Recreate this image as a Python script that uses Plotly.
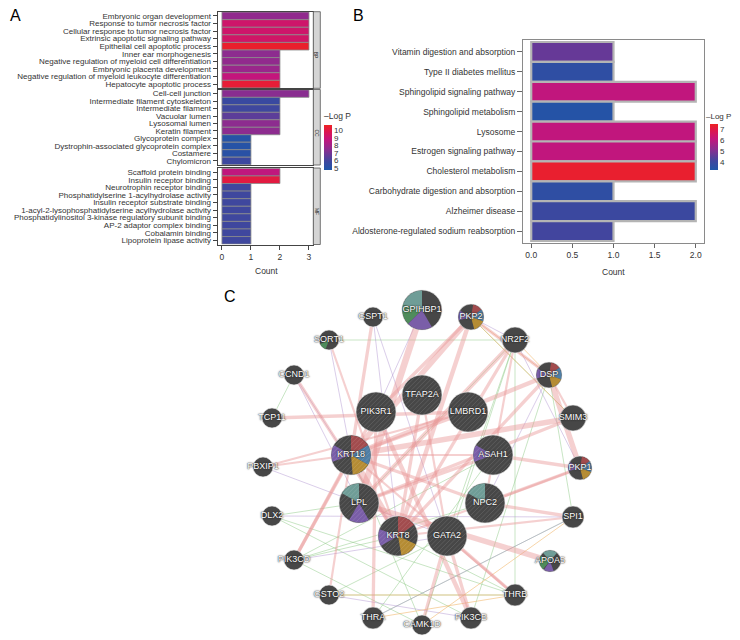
import numpy as np
import plotly.graph_objects as go

W, H = 740, 640
OFF = 8  # page body margin; layout coordinates below are page pixels

# ---------------- Panel A data (GO enrichment) ----------------
bp_terms = ["Embryonic organ development", "Response to tumor necrosis factor",
            "Cellular response to tumor necrosis factor", "Extrinsic apoptotic signaling pathway",
            "Epithelial cell apoptotic process", "Inner ear morphogenesis",
            "Negative regulation of myeloid cell differentiation", "Embryonic placenta development",
            "Negative regulation of myeloid leukocyte differentiation", "Hepatocyte apoptotic process"]
bp_counts = [3, 3, 3, 3, 3, 2, 2, 2, 2, 2]
bp_logp = [7.6, 9.2, 9.2, 9.3, 10.5, 7.5, 7.6, 7.8, 8.8, 10.3]

cc_terms = ["Cell-cell junction", "Intermediate filament cytoskeleton", "Intermediate filament",
            "Vacuolar lumen", "Lysosomal lumen", "Keratin filament", "Glycoprotein complex",
            "Dystrophin-associated glycoprotein complex", "Costamere", "Chylomicron"]
cc_counts = [3, 2, 2, 2, 2, 2, 1, 1, 1, 1]
cc_logp = [7.4, 5.7, 5.9, 6.5, 7.5, 7.5, 5.0, 5.0, 5.1, 5.8]

mf_terms = ["Scaffold protein binding", "Insulin receptor binding", "Neurotrophin receptor binding",
            "Phosphatidylserine 1-acylhydrolase activity", "Insulin receptor substrate binding",
            "1-acyl-2-lysophosphatidylserine acylhydrolase activity",
            "Phosphatidylinositol 3-kinase regulatory subunit binding", "AP-2 adaptor complex binding",
            "Cobalamin binding", "Lipoprotein lipase activity"]
mf_counts = [2, 2, 1, 1, 1, 1, 1, 1, 1, 1]
mf_logp = [8.7, 10.1, 5.9, 5.9, 5.9, 5.9, 5.9, 5.9, 5.9, 5.9]

go_ticks = [0, 1, 2, 3]
go_logp_ticks = [5, 6, 7, 8, 9, 10]
facet_names = ["BP", "CC", "MF"]

# ---------------- Panel B data (KEGG) ----------------
kegg_terms = ["Vitamin digestion and absorption", "Type II diabetes mellitus",
              "Sphingolipid signaling pathway", "Sphingolipid metabolism", "Lysosome",
              "Estrogen signaling pathway", "Cholesterol metabolism",
              "Carbohydrate digestion and absorption", "Alzheimer disease",
              "Aldosterone-regulated sodium reabsorption"]
kegg_counts = [1, 1, 2, 1, 2, 2, 2, 1, 2, 1]
kegg_logp = [4.7, 3.75, 6.1, 3.5, 6.1, 6.1, 7.3, 3.75, 4.05, 4.2]
kegg_ticks = [0.0, 0.5, 1.0, 1.5, 2.0]
kegg_logp_ticks = [4, 5, 6, 7]

# ---------------- Panel C data (network) ----------------
node_names = ["GPIHBP1", "GSPT1", "SORT1", "PKP2", "NR2F2", "CCND1", "DSP", "TFAP2A", "PIK3R1",
              "LMBRD1", "TCP11", "SMIM3", "KRT18", "ASAH1", "PBXIP1", "PKP1", "LPL", "NPC2",
              "DLX2", "SPI1", "KRT8", "GATA2", "PIK3CD", "APOA5", "GSTO2", "THRB", "THRA",
              "PIK3CB", "CAMK1D"]
node_x = [422, 373, 329, 471, 515, 294, 549, 422, 376, 468, 272, 573, 351, 493, 263, 580, 359,
          485, 272, 573, 398, 447, 294, 550, 329, 515, 373, 471, 422]
node_y = [310, 317, 340, 317, 340, 375, 375, 395, 412, 412, 418, 418, 455, 455, 467, 468, 503,
          503, 516, 517, 536, 536, 560, 561, 595, 595, 618, 618, 625]
node_r = [20, 10, 10, 13, 13, 10, 13, 20, 20, 20, 10, 13, 20, 20, 10, 12, 20, 20, 10, 11, 20, 20,
          10, 11, 10, 11, 11, 11, 10]
query_genes = ["TFAP2A", "PIK3R1", "LMBRD1", "KRT18", "ASAH1", "LPL", "NPC2", "KRT8", "GATA2"]

pink_edges = [("GPIHBP1", "LPL", 6), ("PKP2", "KRT18", 5), ("PKP2", "KRT8", 4), ("PKP2", "DSP", 3),
              ("PKP2", "PIK3R1", 3), ("DSP", "PKP1", 5), ("DSP", "KRT18", 4), ("DSP", "KRT8", 3),
              ("SMIM3", "KRT18", 5), ("SMIM3", "LPL", 3), ("TCP11", "LMBRD1", 3), ("PKP1", "ASAH1", 3),
              ("PKP1", "NPC2", 3), ("PKP1", "KRT8", 2), ("SPI1", "NPC2", 3), ("SPI1", "KRT8", 2),
              ("APOA5", "LPL", 5), ("THRB", "GATA2", 3), ("THRB", "KRT18", 2), ("PIK3CB", "GATA2", 3),
              ("PIK3CB", "PIK3R1", 4), ("CAMK1D", "GATA2", 3), ("THRA", "PIK3R1", 3),
              ("PIK3CD", "PIK3R1", 3), ("GSTO2", "KRT18", 2), ("PIK3CD", "KRT18", 3),
              ("SORT1", "KRT8", 2), ("GSPT1", "KRT18", 3), ("CCND1", "KRT8", 3), ("PBXIP1", "KRT18", 2),
              ("PBXIP1", "LMBRD1", 2), ("NR2F2", "LPL", 4), ("NR2F2", "KRT8", 3), ("NR2F2", "NPC2", 2),
              ("LPL", "ASAH1", 3), ("KRT18", "ASAH1", 2), ("KRT18", "KRT8", 6), ("KRT18", "NPC2", 3),
              ("TFAP2A", "KRT8", 3), ("TFAP2A", "GATA2", 2), ("LMBRD1", "KRT18", 3), ("DSP", "SMIM3", 2)]
green_edges = [("SORT1", "NR2F2"), ("CCND1", "TCP11"), ("DLX2", "THRB"), ("PIK3CD", "NPC2"),
               ("GSTO2", "THRB"), ("THRA", "SPI1"), ("CAMK1D", "NR2F2"), ("CAMK1D", "KRT18"),
               ("THRB", "NR2F2"), ("PIK3CB", "DSP"), ("DLX2", "PIK3CB"), ("PIK3CD", "ASAH1"),
               ("GATA2", "NR2F2"), ("LPL", "NR2F2"), ("KRT8", "THRB"), ("SPI1", "DSP"),
               ("PIK3CD", "KRT8"), ("GSTO2", "GATA2"), ("DLX2", "LPL"), ("PKP2", "SMIM3"),
               ("CAMK1D", "PIK3CD"), ("THRA", "ASAH1")]
purple_edges = [("GSPT1", "KRT8"), ("GSPT1", "GATA2"), ("SORT1", "KRT18"), ("CCND1", "KRT8"),
                ("CCND1", "LPL"), ("PKP2", "NR2F2"), ("DSP", "NPC2"), ("PBXIP1", "GATA2"),
                ("PIK3CD", "GATA2"), ("GSTO2", "PIK3CB"), ("SPI1", "THRA"), ("NR2F2", "PKP1"),
                ("GPIHBP1", "PIK3R1"), ("DLX2", "SPI1")]
orange_edges = [("PKP2", "DSP"), ("THRA", "THRB"), ("CAMK1D", "SPI1"), ("NR2F2", "DSP"),
                ("GSTO2", "THRB"), ("PKP2", "SMIM3")]

pie_segments = [("GPIHBP1", 285, 360, "teal"), ("GPIHBP1", 225, 285, "green"), ("GPIHBP1", 150, 225, "purple"),
                ("PKP2", 10, 55, "red"), ("PKP2", 55, 110, "blue"), ("PKP2", 110, 165, "gold"), ("PKP2", 255, 300, "purple"),
                ("DSP", 10, 55, "red"), ("DSP", 55, 110, "blue"), ("DSP", 110, 165, "gold"), ("DSP", 255, 300, "purple"),
                ("PKP1", 10, 55, "red"), ("PKP1", 55, 110, "blue"), ("PKP1", 110, 165, "gold"), ("PKP1", 255, 300, "purple"),
                ("KRT18", 0, 60, "red"), ("KRT18", 60, 120, "blue"), ("KRT18", 120, 175, "gold"), ("KRT18", 250, 300, "purple"),
                ("KRT8", 0, 55, "red"), ("KRT8", 115, 170, "gold"), ("KRT8", 240, 290, "purple"),
                ("LPL", 300, 360, "teal"), ("LPL", 150, 210, "purple"),
                ("NPC2", 300, 360, "teal"), ("ASAH1", 250, 300, "purple"),
                ("APOA5", 320, 400, "teal"), ("APOA5", 220, 300, "green"), ("APOA5", 160, 215, "purple"),
                ("SORT1", 200, 245, "green")]
pie_colors = {"teal": "#6f9d97", "green": "#4f8c5c", "purple": "#7a5ea8", "red": "#a24c4e",
              "blue": "#4f7fa6", "gold": "#b58c34"}

# ---------------- helpers (page pixel -> paper) ----------------
def px(x):
    return (x - OFF) / W


def py(y):
    return 1 - (y - OFF) / H


def dx(a, b):
    return [px(a), px(b)]


def dy(top, bottom):
    return [py(bottom), py(top)]


CS = [[0, "#1f56a8"], [0.2, "#40469e"], [0.45, "#8a2d90"], [0.68, "#c4157c"],
      [0.85, "#dc1650"], [1, "#ee2222"]]
FONT = "Arial, Liberation Sans, Helvetica, sans-serif"
TXT = "#333333"

fig = go.Figure()

# ---------------- Panel A bars ----------------
facets = [(bp_terms, bp_counts, bp_logp, "x", "y"),
          (cc_terms, cc_counts, cc_logp, "x2", "y2"),
          (mf_terms, mf_counts, mf_logp, "x3", "y3")]
for terms, counts, logp, xa, ya in facets:
    fig.add_trace(go.Bar(x=counts, y=terms, orientation="h", width=1.0,
                         marker=dict(color=logp, coloraxis="coloraxis",
                                     line=dict(color="#8a8a8a", width=0.8)),
                         xaxis=xa, yaxis=ya, showlegend=False, hoverinfo="skip"))

# ---------------- Panel B bars ----------------
fig.add_trace(go.Bar(x=kegg_counts, y=kegg_terms, orientation="h", width=1.0,
                     marker=dict(color=kegg_logp, coloraxis="coloraxis2",
                                 line=dict(color="#b4b4b4", width=2.2)),
                     xaxis="x4", yaxis="y4", showlegend=False, hoverinfo="skip"))

# ---------------- Panel C network ----------------
pos = {n: (x, y, r) for n, x, y, r in zip(node_names, node_x, node_y, node_r)}


def edge_xy(pairs):
    xs, ys = [], []
    for a, b in pairs:
        xs += [pos[a][0], pos[b][0], None]
        ys += [pos[a][1], pos[b][1], None]
    return xs, ys


for col, pairs in [("rgba(140,200,130,0.6)", green_edges), ("rgba(170,140,205,0.55)", purple_edges),
                   ("rgba(240,180,100,0.7)", orange_edges)]:
    xs, ys = edge_xy(pairs)
    fig.add_trace(go.Scatter(x=xs, y=ys, mode="lines", line=dict(color=col, width=0.8),
                             xaxis="x5", yaxis="y5", showlegend=False, hoverinfo="skip"))

for w in sorted(set(e[2] for e in pink_edges)):
    xs, ys = edge_xy([(a, b) for a, b, ww in pink_edges if ww == w])
    fig.add_trace(go.Scatter(x=xs, y=ys, mode="lines",
                             line=dict(color="rgba(232,150,150,0.45)", width=w * 1.1),
                             xaxis="x5", yaxis="y5", showlegend=False, hoverinfo="skip"))

fig.add_trace(go.Scatter(x=node_x, y=node_y, mode="markers",
                         marker=dict(size=[2 * r for r in node_r], color="#474747", opacity=1,
                                     line=dict(color="#e8e8e8", width=0.6)),
                         xaxis="x5", yaxis="y5", showlegend=False, hoverinfo="skip"))

for n, a0, a1, ck in pie_segments:
    cx, cy, r = pos[n]
    rr = r - 0.4
    th = np.radians(np.linspace(a0, a1, 24))
    xs = [cx] + list(cx + rr * np.sin(th)) + [cx]
    ys = [cy] + list(cy - rr * np.cos(th)) + [cy]
    fig.add_trace(go.Scatter(x=xs, y=ys, mode="lines", fill="toself", fillcolor=pie_colors[ck],
                             line=dict(width=0, color=pie_colors[ck]),
                             xaxis="x5", yaxis="y5", showlegend=False, hoverinfo="skip"))

# diagonal hatching on query-gene nodes
hx, hy = [], []
u = np.array([1.0, -1.0]) / np.sqrt(2)
nrm = np.array([1.0, 1.0]) / np.sqrt(2)
for g in query_genes:
    cx, cy, r = pos[g]
    rr = r - 1.0
    for d in np.arange(-rr + 1.5, rr, 3.2):
        h = np.sqrt(rr * rr - d * d)
        p = np.array([cx, cy]) + d * nrm
        a, b = p - h * u, p + h * u
        hx += [a[0], b[0], None]
        hy += [a[1], b[1], None]
fig.add_trace(go.Scatter(x=hx, y=hy, mode="lines", line=dict(color="rgba(255,255,255,0.13)", width=0.9),
                         xaxis="x5", yaxis="y5", showlegend=False, hoverinfo="skip"))

fig.add_trace(go.Scatter(x=node_x, y=node_y, mode="text", text=node_names,
                         textfont=dict(family=FONT, size=9, color="white",
                                       shadow="0px 0px 2px #222, 0px 0px 1px #222"),
                         xaxis="x5", yaxis="y5", showlegend=False, hoverinfo="skip"))

# ---------------- Layout ----------------
A_X = dx(217.6, 313.3)
a_facet_y = [(11.7, 88.3), (89.5, 165.0), (168.0, 244.5)]

ax_common = dict(range=[-0.15, 3.15], showgrid=False, zeroline=False, showline=True, mirror=True,
                 linecolor="#444", linewidth=1, tickvals=go_ticks, domain=A_X,
                 tickfont=dict(size=8.5, color=TXT, family=FONT))
ay_common = dict(type="category", range=[9.55, -0.55], showgrid=False, zeroline=False, showline=True,
                 mirror=True, linecolor="#444", linewidth=1, ticks="outside", ticklen=4,
                 tickcolor="#444", tickfont=dict(size=8, color=TXT, family=FONT))

layout = dict(width=W, height=H, margin=dict(l=0, r=0, t=0, b=0), autosize=False,
              paper_bgcolor="white", plot_bgcolor="white", showlegend=False,
              font=dict(family=FONT, color=TXT), hovermode=False)

for i, ((top, bot), terms) in enumerate(zip(a_facet_y, [bp_terms, cc_terms, mf_terms])):
    sfx = "" if i == 0 else str(i + 1)
    xa = dict(ax_common, anchor="y" + sfx)
    if i < 2:
        xa.update(showticklabels=False, ticks="")
    else:
        xa.update(ticks="outside", ticklen=4, tickcolor="#444")
    ya = dict(ay_common, anchor="x" + sfx, domain=dy(top, bot), categoryarray=terms,
              categoryorder="array", tickmode="array", tickvals=terms, ticktext=terms)
    layout["xaxis" + sfx] = xa
    layout["yaxis" + sfx] = ya

layout["xaxis4"] = dict(domain=dx(523, 704), anchor="y4", range=[-0.1, 2.1], showgrid=False,
                        zeroline=False, showline=True, mirror=True, linecolor="#8a8a8a", linewidth=1,
                        tickvals=kegg_ticks, ticktext=[f"{v:.1f}" for v in kegg_ticks],
                        ticks="outside", ticklen=4, tickcolor="#666",
                        tickfont=dict(size=8.5, color=TXT, family=FONT))
layout["yaxis4"] = dict(domain=dy(40, 243), anchor="x4", type="category", categoryorder="array",
                        categoryarray=kegg_terms, range=[9.6, -0.6], showgrid=False, zeroline=False,
                        showline=True, mirror=True, linecolor="#8a8a8a", linewidth=1,
                        tickmode="array", tickvals=kegg_terms, ticktext=kegg_terms,
                        ticks="outside", ticklen=5, tickcolor="#666",
                        tickfont=dict(size=8.5, color=TXT, family=FONT))
layout["xaxis5"] = dict(domain=dx(240, 610), anchor="y5", range=[240, 610], visible=False)
layout["yaxis5"] = dict(domain=dy(280, 640), anchor="x5", range=[640, 280], visible=False)

layout["coloraxis"] = dict(colorscale=CS, cmin=4.75, cmax=10.7,
                           colorbar=dict(x=px(324), xanchor="left", y=py(110), yanchor="top",
                                         len=60 / H, lenmode="fraction", thickness=8,
                                         thicknessmode="pixels", xpad=0, ypad=0, outlinewidth=0,
                                         tickvals=go_logp_ticks, ticks="",
                                         tickfont=dict(size=8, color=TXT, family=FONT),
                                         title=dict(text="–Log P", side="top",
                                                    font=dict(size=8.5, color=TXT, family=FONT))))
layout["coloraxis2"] = dict(colorscale=CS, cmin=3.34, cmax=7.48,
                            colorbar=dict(x=px(710), xanchor="left", y=py(124), yanchor="top",
                                          len=46 / H, lenmode="fraction", thickness=8,
                                          thicknessmode="pixels", xpad=0, ypad=0, outlinewidth=0,
                                          tickvals=kegg_logp_ticks, ticks="",
                                          tickfont=dict(size=8, color=TXT, family=FONT)))

shapes = []
annotations = []
for (top, bot), name in zip(a_facet_y, facet_names):
    shapes.append(dict(type="rect", xref="paper", yref="paper", x0=px(313.3), x1=px(320.3),
                       y0=py(bot), y1=py(top), fillcolor="#d4d4d4",
                       line=dict(color="#555", width=0.8), layer="above"))
    annotations.append(dict(xref="paper", yref="paper", x=px(316.8), y=py((top + bot) / 2),
                            text=name, showarrow=False, textangle=90,
                            font=dict(size=5, color="#222", family=FONT)))

annotations.append(dict(xref="paper", yref="paper", x=px(704), y=py(117), text="–Log P",
                        showarrow=False, xanchor="left", yanchor="middle",
                        font=dict(size=8, color=TXT, family=FONT)))

for txt, x, y in [("A", 8, 16), ("B", 351, 16), ("C", 222, 296)]:
    annotations.append(dict(xref="paper", yref="paper", x=px(x), y=py(y), text=txt,
                            showarrow=False, xanchor="left", yanchor="middle",
                            font=dict(size=16, color="black", family=FONT)))
for x, y in [(266, 271), (613, 272)]:
    annotations.append(dict(xref="paper", yref="paper", x=px(x), y=py(y), text="Count",
                            showarrow=False, xanchor="center", yanchor="middle",
                            font=dict(size=8.5, color=TXT, family=FONT)))

layout["shapes"] = shapes
layout["annotations"] = annotations
fig.update_layout(**layout)

fig.write_html("out.html")
